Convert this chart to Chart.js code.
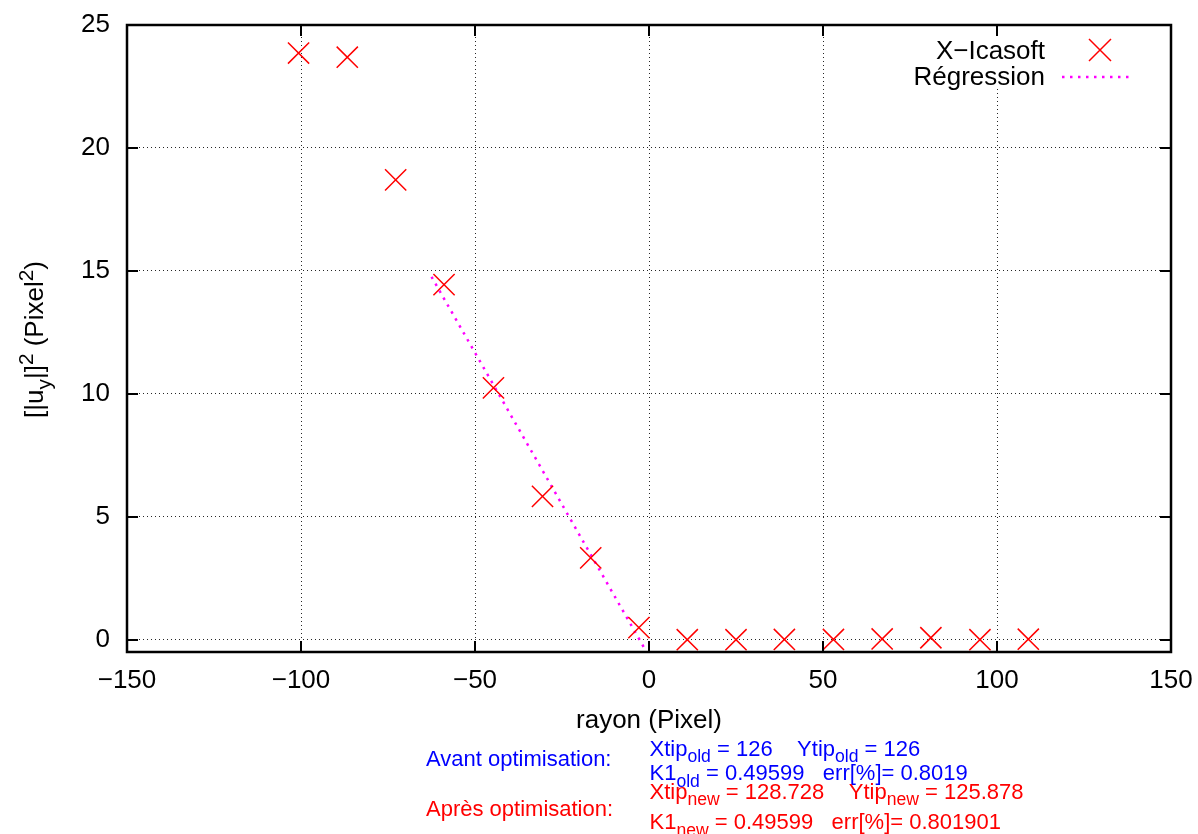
<!DOCTYPE html>
<html>
<head>
<meta charset="utf-8">
<script src="https://cdn.jsdelivr.net/npm/chart.js@4/dist/chart.umd.min.js"></script>
<style>
  html, body { margin: 0; padding: 0; background: #fff; }
  canvas { display: block; }
</style>
</head>
<body>
<canvas id="c" width="1198" height="834"></canvas>
<script>
// ---- data ----
const rayon = [-100.7, -86.7, -72.8, -58.9, -44.7, -30.6, -16.75, -2.9, 11.0, 25.0, 38.9, 53.0, 67.0, 81.0, 95.1, 109.0];
const uy2   = [23.86, 23.69, 18.70, 14.44, 10.24, 5.83, 3.33, 0.49, 0.0, 0.0, 0.01, 0.01, 0.03, 0.08, 0.0, 0.02];
const regX  = [-62.5, -0.7];
const regY  = [14.76, -0.5];
const xTicks = [-150, -100, -50, 0, 50, 100, 150];
const xTickLabels = ['\u2212150', '\u2212100', '\u221250', '0', '50', '100', '150'];
const yTicks = [0, 5, 10, 15, 20, 25];
const yTickLabels = ['0', '5', '10', '15', '20', '25'];
const seriesNames = ['X\u2212Icasoft', 'R\u00e9gression'];

const FONT = '"Liberation Sans", Arial, sans-serif';

function drawRich(ctx, parts, x, y, size, color, align) {
  let w = 0;
  const items = parts.map(p => {
    const s = p[1] ? size * 0.8 : size;
    ctx.font = s + 'px ' + FONT;
    const m = ctx.measureText(p[0]).width;
    w += m;
    return { t: p[0], s, m, dy: p[1] === 'sub' ? size * 0.3 : (p[1] === 'sup' ? -size * 0.4 : 0) };
  });
  let cx = align === 'center' ? x - w / 2 : (align === 'right' ? x - w : x);
  ctx.fillStyle = color;
  ctx.textAlign = 'left';
  ctx.textBaseline = 'alphabetic';
  items.forEach(it => {
    ctx.font = it.s + 'px ' + FONT;
    ctx.fillText(it.t, cx, y + it.dy);
    cx += it.m;
  });
}

const decor = {
  id: 'decor',
  beforeDatasetsDraw(chart) {
    const ctx = chart.ctx;
    ctx.save();
    ctx.fillStyle = '#fff';
    ctx.fillRect(905, 28, 262, 61);
    ctx.restore();
  },
  afterDatasetsDraw(chart) {
    const ctx = chart.ctx;
    const a = chart.chartArea;
    const xs = chart.scales.x, ys = chart.scales.y;
    ctx.save();
    ctx.strokeStyle = '#000';
    ctx.lineWidth = 2;
    ctx.beginPath();
    xTicks.forEach(v => {
      const px = Math.round(xs.getPixelForValue(v));
      ctx.moveTo(px, a.bottom); ctx.lineTo(px, a.bottom - 11);
      ctx.moveTo(px, a.top); ctx.lineTo(px, a.top + 11);
    });
    yTicks.forEach(v => {
      const py = Math.round(ys.getPixelForValue(v));
      ctx.moveTo(a.left, py); ctx.lineTo(a.left + 11, py);
      ctx.moveTo(a.right, py); ctx.lineTo(a.right - 11, py);
    });
    ctx.stroke();
    ctx.lineWidth = 2.5;
    ctx.strokeRect(a.left, a.top, a.right - a.left, a.bottom - a.top);

    // legend
    ctx.fillStyle = '#000';
    ctx.font = '26px ' + FONT;
    ctx.textAlign = 'right';
    ctx.textBaseline = 'alphabetic';
    ctx.fillText(seriesNames[0], 1045, 59);
    ctx.fillText(seriesNames[1], 1045, 85);
    ctx.strokeStyle = '#ff0000';
    ctx.lineWidth = 1.5;
    ctx.beginPath();
    ctx.moveTo(1089, 39); ctx.lineTo(1111, 61);
    ctx.moveTo(1111, 39); ctx.lineTo(1089, 61);
    ctx.stroke();
    ctx.strokeStyle = '#ff00ff';
    ctx.lineWidth = 2.5;
    ctx.setLineDash([2.5, 5.5]);
    ctx.beginPath();
    ctx.moveTo(1062, 77); ctx.lineTo(1134, 77);
    ctx.stroke();
    ctx.setLineDash([]);

    // x axis title
    ctx.fillStyle = '#000';
    ctx.font = '26px ' + FONT;
    ctx.textAlign = 'center';
    ctx.fillText('rayon (Pixel)', (a.left + a.right) / 2, 728);

    // y axis title (rotated)
    ctx.save();
    ctx.translate(43, (a.top + a.bottom) / 2 + 1);
    ctx.rotate(-Math.PI / 2);
    drawRich(ctx, [['[|u'], ['y', 'sub'], ['|]'], ['2', 'sup'], [' (Pixel'], ['2', 'sup'], [')']], 0, 0, 26, '#000', 'center');
    ctx.restore();

    // annotations
    const blue = '#0000ff', red = '#ff0000';
    ctx.font = '22px ' + FONT;
    ctx.textAlign = 'left';
    ctx.fillStyle = blue;
    ctx.fillText('Avant optimisation:', 426, 766);
    ctx.fillStyle = red;
    ctx.fillText('Apr\u00e8s optimisation:', 426, 815.5);
    drawRich(ctx, [['Xtip'], ['old', 'sub'], [' = 126    Ytip'], ['old', 'sub'], [' = 126']], 649.5, 755.5, 22, blue, 'left');
    drawRich(ctx, [['K1'], ['old', 'sub'], [' = 0.49599   err[%]= 0.8019']], 649.5, 780, 22, blue, 'left');
    drawRich(ctx, [['Xtip'], ['new', 'sub'], [' = 128.728    Ytip'], ['new', 'sub'], [' = 125.878']], 649.5, 798.5, 22, red, 'left');
    drawRich(ctx, [['K1'], ['new', 'sub'], [' = 0.49599   err[%]= 0.801901']], 649.5, 829, 22, red, 'left');
    ctx.restore();
  }
};

const gridColor = edges => (c => (c.tick && edges.includes(c.tick.value)) ? 'rgba(0,0,0,0)' : 'rgba(0,0,0,0.85)');
const noPad = s => { s.paddingTop = 0; s.paddingBottom = 0; s.paddingLeft = 0; s.paddingRight = 0; };

new Chart(document.getElementById('c'), {
  type: 'scatter',
  data: {
    datasets: [
      {
        label: seriesNames[0],
        data: rayon.map((x, i) => ({ x, y: uy2[i] })),
        pointStyle: 'crossRot',
        pointRadius: 15,
        pointHoverRadius: 15,
        pointBorderWidth: 1.5,
        borderColor: '#ff0000',
        backgroundColor: '#ff0000',
        order: 1
      },
      {
        type: 'line',
        label: seriesNames[1],
        data: regX.map((x, i) => ({ x, y: regY[i] })),
        borderColor: '#ff00ff',
        borderWidth: 2.5,
        borderDash: [2.5, 5.5],
        pointRadius: 0,
        fill: false,
        tension: 0,
        order: 2
      }
    ]
  },
  options: {
    responsive: false,
    devicePixelRatio: 1,
    animation: false,
    events: [],
    layout: { padding: { left: 0, top: 25, right: 27, bottom: 0 } },
    plugins: { legend: { display: false }, tooltip: { enabled: false }, title: { display: false } },
    scales: {
      x: {
        type: 'linear',
        min: -150, max: 150,
        afterBuildTicks: s => { s.ticks = xTicks.map(v => ({ value: v })); },
        afterFit: s => { s.height = 182; noPad(s); },
        ticks: {
          autoSkip: false, maxRotation: 0,
          padding: 13,
          color: '#000',
          font: { family: FONT, size: 26 },
          callback: (v, i) => xTickLabels[i]
        },
        grid: { color: gridColor([-150, 150]), lineWidth: 1, drawTicks: false },
        border: { display: false, dash: [1, 3] }
      },
      y: {
        type: 'linear',
        min: -0.5, max: 25,
        afterBuildTicks: s => { s.ticks = yTicks.map(v => ({ value: v })); },
        afterFit: s => { s.width = 127; noPad(s); },
        ticks: {
          autoSkip: false,
          padding: 17,
          color: '#000',
          font: { family: FONT, size: 26 },
          callback: (v, i) => yTickLabels[i]
        },
        grid: { color: gridColor([25]), lineWidth: 1, drawTicks: false },
        border: { display: false, dash: [1, 3] }
      }
    }
  },
  plugins: [decor]
});
</script>
</body>
</html>
